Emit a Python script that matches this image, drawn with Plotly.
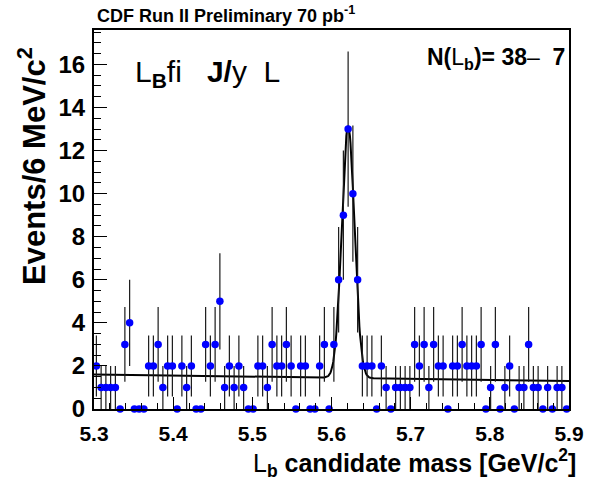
import numpy as np
import plotly.graph_objects as go

# ---- data ----
mass_lo = 5.3
bin_width = 0.006
counts = [2, 1, 1, 1, 1, 0, 3, 4, 0, 0,
          0, 2, 2, 3, 1, 2, 2, 0, 2, 1,
          2, 0, 0, 3, 2, 3, 5, 1, 2, 1,
          2, 1, 0, 0, 2, 2, 1, 3, 2, 2,
          3, 2, 0, 2, 2, 0, 0, 2, 3, 0,
          3, 6, 9, 13, 10, 6, 2, 2, 2, 0,
          2, 1, 0, 1, 1, 1, 1, 3, 2, 3,
          1, 3, 2, 2, 0, 2, 2, 3, 2, 2,
          2, 3, 0, 1, 3, 0, 1, 2, 0, 1,
          1, 3, 1, 1, 0, 1, 0, 1, 1, 0]

# fit model parameters (Gaussian signal + linear background)
fit_mean = 5.621
fit_sigma = 0.008
fit_amp = 11.7
bg_at_lo = 1.60
bg_slope = -0.50

x_ticks = [5.3, 5.4, 5.5, 5.6, 5.7, 5.8, 5.9]
y_ticks = [0, 2, 4, 6, 8, 10, 12, 14, 16]

centers = [mass_lo + bin_width * (i + 0.5) for i in range(len(counts))]
errors = [float(np.sqrt(c)) for c in counts]

fit_x = np.linspace(5.3, 5.9, 801)
fit_y = (fit_amp * np.exp(-0.5 * ((fit_x - fit_mean) / fit_sigma) ** 2)
         + bg_at_lo + bg_slope * (fit_x - mass_lo))

fig = go.Figure()
fig.add_trace(go.Scatter(
    x=fit_x, y=fit_y, mode="lines",
    line=dict(color="black", width=2), hoverinfo="skip", showlegend=False))
fig.add_trace(go.Scatter(
    x=centers, y=counts, mode="markers",
    marker=dict(color="#0000ff", size=7.5, line=dict(width=0)),
    error_y=dict(type="data", array=errors, visible=True,
                 color="#1a1a1a", thickness=1.2, width=0),
    cliponaxis=False, showlegend=False))

bold = "Liberation Sans, Arial, sans-serif"

fig.update_layout(
    width=599, height=481, autosize=False,
    margin=dict(l=94, r=30, t=30, b=72),
    paper_bgcolor="white", plot_bgcolor="white",
    font=dict(family=bold, color="black"),
    xaxis=dict(range=[5.3, 5.9], tickvals=x_ticks,
               ticktext=[f"<b>{v:.1f}</b>" for v in x_ticks],
               tickfont=dict(size=21, family=bold),
               ticks="inside", ticklen=12, tickwidth=1, tickcolor="black",
               minor=dict(dtick=0.02, ticks="inside", ticklen=6,
                          tickwidth=1, tickcolor="black"),
               showline=True, linecolor="black", linewidth=2, mirror=True,
               showgrid=False, zeroline=False, ticklabelstandoff=5),
    yaxis=dict(range=[0, 17.6], tickvals=y_ticks,
               ticktext=[f"<b>{v}</b>" for v in y_ticks],
               tickfont=dict(size=24, family=bold),
               ticks="inside", ticklen=13, tickwidth=1, tickcolor="black",
               minor=dict(dtick=0.5, ticks="inside", ticklen=7,
                          tickwidth=1, tickcolor="black"),
               showline=True, linecolor="black", linewidth=2, mirror=True,
               showgrid=False, zeroline=False, ticklabelstandoff=2),
)

def px_x(p):
    return (p - 94) / 475.0

def px_y(p):
    return (409 - p) / 379.0

annotations = [
    dict(text="<b>CDF Run II Preliminary 70 pb<sup>-1</sup></b>",
         x=px_x(95), y=px_y(14), xanchor="left", yanchor="middle",
         font=dict(size=18, family=bold)),
    dict(text="<b>Events/6 MeV/c<sup>2</sup></b>", textangle=-90,
         x=px_x(32), y=px_y(166), xanchor="center", yanchor="middle",
         font=dict(size=31, family=bold)),
    dict(text="L<sub><b>b</b></sub> <b>candidate mass [GeV/c<sup>2</sup>]</b>",
         x=px_x(578), y=px_y(463), xanchor="right", yanchor="middle",
         font=dict(size=25, family=bold)),
    dict(text="L<sub><b>B</b></sub>fi\u00a0\u00a0\u00a0<b>J/</b>y\u00a0\u00a0L",
         x=px_x(133), y=px_y(74), xanchor="left", yanchor="middle",
         font=dict(size=30, family=bold)),
    dict(text="<b>N(</b>L<sub><b>b</b></sub><b>)= 38</b>\u2013\u00a0\u00a0<b>7</b>",
         x=px_x(567), y=px_y(59), xanchor="right", yanchor="middle",
         font=dict(size=23, family=bold)),
]
for a in annotations:
    a.update(xref="paper", yref="paper", showarrow=False)
fig.update_layout(annotations=annotations)

fig.write_html("out.html")
